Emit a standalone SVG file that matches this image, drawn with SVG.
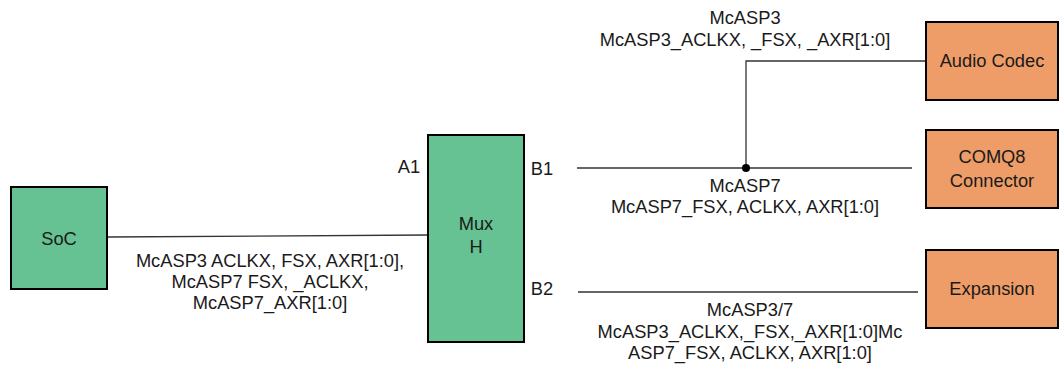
<svg xmlns="http://www.w3.org/2000/svg" width="1060" height="370" viewBox="0 0 1060 370">
<style>
text{font-family:"Liberation Sans",Arial,sans-serif;font-size:18.3px;fill:#1a1a1a;text-anchor:middle}
.g{fill:#66c293;stroke:#000;stroke-width:2}
.o{fill:#ee9d68;stroke:#000;stroke-width:2}
.w{stroke:#333;stroke-width:1.3;fill:none}
</style>
<rect width="1060" height="370" fill="#fff"/>
<g id="connectors">
<polyline class="w" points="108,237 428,235"/>
<line class="w" x1="577" y1="168" x2="912" y2="168"/>
<polyline class="w" points="746,168 746,61 925,61"/>
<circle cx="746" cy="168" r="4" fill="#000"/>
<line class="w" x1="578" y1="292" x2="918" y2="292"/>
<text x="270" y="267">McASP3 ACLKX, FSX, AXR[1:0],</text>
<text x="270" y="288">McASP7 FSX, _ACLKX,</text>
<text x="270" y="309">McASP7_AXR[1:0]</text>
<text x="745" y="24">McASP3</text>
<text x="745" y="46">McASP3_ACLKX, _FSX, _AXR[1:0]</text>
<text x="745" y="192">McASP7</text>
<text x="745" y="213">McASP7_FSX, ACLKX, AXR[1:0]</text>
<text x="750" y="316">McASP3/7</text>
<text x="750" y="338">McASP3_ACLKX,_FSX,_AXR[1:0]Mc</text>
<text x="750" y="359">ASP7_FSX, ACLKX, AXR[1:0]</text>
</g>
<g id="soc"><rect class="g" x="11" y="187" width="96" height="102"/><text x="59" y="245">SoC</text></g>
<g id="mux"><rect class="g" x="428" y="135" width="96" height="207"/><text x="476" y="230">Mux</text><text x="476" y="253">H</text>
<text x="409" y="173">A1</text><text x="542" y="175">B1</text><text x="542" y="295">B2</text></g>
<g id="audio"><rect class="o" x="926" y="22" width="132" height="78"/><text x="992" y="67">Audio Codec</text></g>
<g id="comq8"><rect class="o" x="926" y="130" width="132" height="78"/><text x="992" y="163">COMQ8</text><text x="992" y="187">Connector</text></g>
<g id="expansion"><rect class="o" x="926" y="250" width="132" height="78"/><text x="992" y="295">Expansion</text></g>
</svg>
